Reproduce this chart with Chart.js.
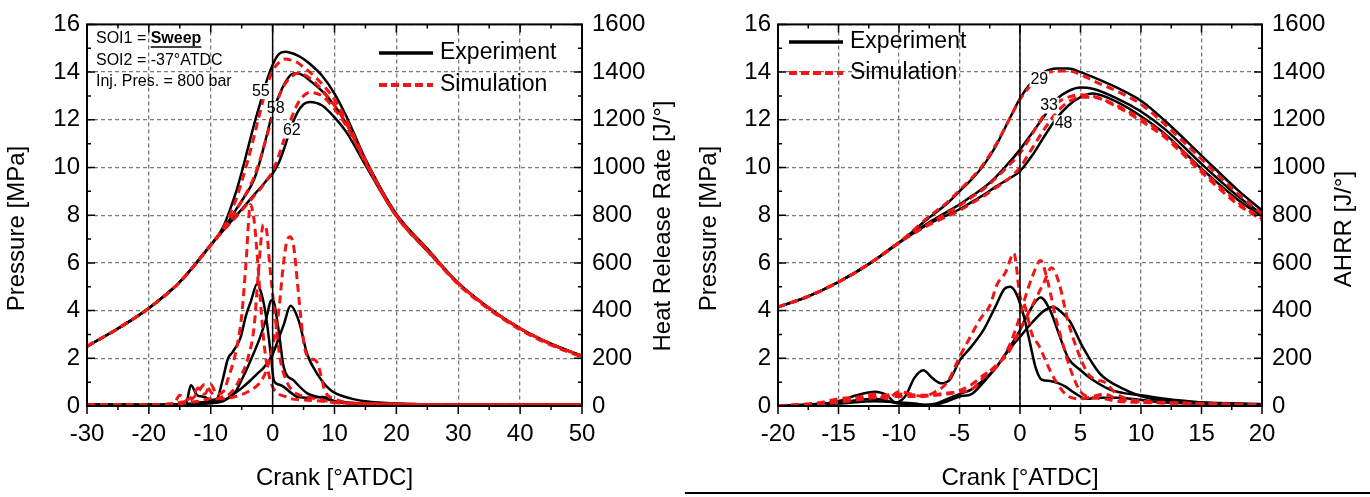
<!DOCTYPE html>
<html>
<head>
<meta charset="utf-8">
<script src="https://cdn.jsdelivr.net/npm/chart.js@4.4.1/dist/chart.umd.min.js"></script>
<style>
  html, body { margin: 0; padding: 0; background: #fff; }
  .panel { position: absolute; top: 0; width: 685px; height: 497px; }
  #left { left: 0; }
  #right { left: 685px; }
  #rule { position: absolute; left: 685px; top: 492px; width: 685px; height: 2px; background: #000; }
</style>
</head>
<body>
<div class="panel" id="left"><canvas id="chartL" width="685" height="497"></canvas></div>
<div class="panel" id="right"><canvas id="chartR" width="685" height="497"></canvas></div>
<div id="rule"></div>
<script>
// ---- left panel: pressure (MPa) ----
var leftCrank = [-30, -25, -20, -15, -10, -8, -6, -5, -4, -3, -2, -1, 0, 1, 2, 3, 4, 5, 6, 8, 10, 12, 15, 20, 25, 30, 35, 40, 45, 50];
var leftExp55 = [2.5, 3.25, 4.1, 5.2, 6.75, 7.5, 8.9, 9.8, 10.8, 11.8, 12.7, 13.6, 14.3, 14.75, 14.85, 14.8, 14.7, 14.55, 14.35, 13.85, 13.1, 12.1, 10.35, 8.05, 6.6, 5.15, 4.1, 3.25, 2.6, 2.1];
var leftExp58 = [2.5, 3.25, 4.1, 5.2, 6.75, 7.4, 8.2, 8.6, 9.0, 9.5, 10.3, 11.3, 12.3, 13.0, 13.55, 13.9, 13.95, 13.85, 13.65, 13.2, 12.6, 11.8, 10.3, 8.0, 6.55, 5.15, 4.1, 3.25, 2.6, 2.1];
var leftExp62 = [2.5, 3.25, 4.1, 5.2, 6.75, 7.35, 7.95, 8.25, 8.55, 8.85, 9.15, 9.45, 9.75, 10.2, 10.9, 11.7, 12.3, 12.65, 12.75, 12.6, 12.1, 11.45, 10.1, 7.95, 6.5, 5.15, 4.1, 3.25, 2.6, 2.1];
var leftSim55 = [2.5, 3.25, 4.1, 5.2, 6.75, 7.45, 8.6, 9.4, 10.3, 11.3, 12.35, 13.35, 14.05, 14.4, 14.55, 14.5, 14.4, 14.2, 14.0, 13.5, 12.85, 11.95, 10.3, 8.0, 6.55, 5.15, 4.1, 3.25, 2.6, 2.1];
var leftSim58 = [2.5, 3.25, 4.1, 5.2, 6.75, 7.4, 8.15, 8.6, 9.05, 9.6, 10.35, 11.25, 12.15, 12.95, 13.5, 13.8, 13.95, 13.9, 13.75, 13.25, 12.6, 11.8, 10.25, 8.0, 6.55, 5.15, 4.1, 3.25, 2.6, 2.1];
var leftSim62 = [2.5, 3.25, 4.1, 5.2, 6.75, 7.35, 7.9, 8.2, 8.5, 8.8, 9.1, 9.45, 9.85, 10.5, 11.3, 12.05, 12.65, 13.0, 13.15, 13.0, 12.45, 11.7, 10.2, 7.95, 6.5, 5.1, 4.05, 3.2, 2.55, 2.05];

// ---- left panel: heat release rate (J/deg) ----
var hrrExp55Crank = [-30, -20, -16, -14, -13.2, -12.2, -11, -10, -9, -8.1, -7.2, -6.5, -5.2, -4.3, -3.5, -2.5, -1.8, -1.1, -0.3, 0.2, 1, 1.8, 3, 4, 6, 8.2, 10, 15, 20, 30, 40, 50];
var hrrExp55 = [5, 5, 5, 12, 87, 45, 38, 25, 30, 107, 200, 225, 286, 380, 440, 513, 470, 382, 217, 107, 90, 80, 55, 38, 35, 38, 20, 10, 8, 5, 5, 5];
var hrrExp58Crank = [-30, -20, -14, -10, -8, -6, -5, -4, -3, -2, -1, -0.3, 0.1, 0.6, 1, 1.8, 3.4, 5.6, 7, 8, 10, 15, 20, 30, 50];
var hrrExp58 = [5, 5, 8, 20, 25, 60, 110, 165, 225, 290, 370, 440, 445, 380, 313, 162, 107, 53, 40, 35, 20, 10, 8, 5, 5];
var hrrExp62Crank = [-30, -20, -14, -10, -8, -6.2, -5, -3.6, -2.5, -1.4, 0, 1, 1.8, 2.9, 4.25, 5.6, 7.2, 9.4, 12.6, 15, 20, 30, 50];
var hrrExp62 = [5, 5, 6, 12, 20, 52, 75, 107, 135, 162, 217, 285, 341, 420, 355, 217, 135, 66, 32, 20, 10, 5, 5];
var hrrSim55Crank = [-30, -20, -16, -15, -14, -13, -12, -11, -10, -9, -8, -7, -6, -5, -4.3, -3.6, -3, -2.4, -1.8, -1.2, -0.5, 0, 1, 2, 3, 5, 8, 10, 15, 20, 30, 50];
var hrrSim55 = [5, 5, 10, 45, 25, 40, 75, 50, 90, 50, 60, 130, 220, 380, 600, 845, 780, 600, 380, 220, 120, 80, 50, 40, 30, 25, 20, 15, 10, 8, 5, 5];
var hrrSim58Crank = [-30, -20, -15, -13, -12, -11, -10, -9, -8, -7, -6, -5, -4, -3, -2.3, -1.5, -1, -0.5, 0, 0.6, 1.2, 2, 3, 4, 6, 8, 10, 15, 20, 30, 50];
var hrrSim58 = [5, 5, 15, 30, 60, 90, 60, 30, 40, 50, 80, 130, 200, 330, 560, 760, 740, 600, 470, 330, 200, 120, 70, 50, 35, 25, 15, 10, 8, 5, 5];
var hrrSim62Crank = [-30, -20, -15, -12, -10, -8, -6, -4, -2, -1, 0, 1, 1.6, 2.2, 2.8, 3.4, 4, 4.6, 5.2, 6, 7, 7.6, 8.5, 10, 12, 15, 20, 30, 50];
var hrrSim62 = [5, 5, 10, 20, 30, 30, 40, 60, 100, 150, 250, 400, 560, 680, 710, 670, 520, 360, 240, 200, 190, 150, 60, 30, 15, 10, 8, 5, 5];

// ---- right panel: pressure (MPa) ----
var rightCrank = [-20, -17.5, -15, -12.5, -10, -7.5, -6, -5, -4, -3, -2, -1, 0, 1, 2, 3, 4, 5, 6, 8, 10, 12, 15, 18, 20];
var rightExp29 = [4.15, 4.6, 5.2, 5.95, 6.85, 7.9, 8.5, 9.0, 9.5, 10.1, 10.9, 11.9, 12.9, 13.6, 14.0, 14.15, 14.15, 14.0, 13.8, 13.35, 12.8, 11.95, 10.5, 9.05, 8.2];
var rightExp33 = [4.15, 4.6, 5.2, 5.95, 6.85, 7.7, 8.15, 8.45, 8.8, 9.15, 9.6, 10.15, 10.75, 11.45, 12.15, 12.85, 13.2, 13.35, 13.3, 12.9, 12.35, 11.6, 10.15, 8.8, 8.05];
var rightExp48 = [4.15, 4.6, 5.2, 5.95, 6.85, 7.65, 8.0, 8.25, 8.55, 8.85, 9.2, 9.5, 9.85, 10.5, 11.3, 12.05, 12.6, 12.95, 13.1, 12.75, 12.15, 11.4, 9.95, 8.65, 7.95];
var rightSim29 = [4.15, 4.6, 5.2, 5.95, 6.85, 7.95, 8.55, 9.05, 9.55, 10.15, 10.95, 11.9, 12.85, 13.5, 13.9, 14.05, 14.05, 13.9, 13.65, 13.2, 12.65, 11.8, 10.35, 8.9, 8.05];
var rightSim33 = [4.15, 4.6, 5.2, 5.95, 6.85, 7.65, 8.1, 8.4, 8.75, 9.1, 9.55, 10.05, 10.6, 11.4, 12.2, 12.7, 12.95, 13.05, 13.0, 12.6, 12.05, 11.35, 9.9, 8.55, 7.85];
var rightSim48 = [4.15, 4.6, 5.2, 5.95, 6.85, 7.6, 7.95, 8.2, 8.5, 8.8, 9.15, 9.5, 10.0, 10.8, 11.6, 12.3, 12.75, 12.95, 12.95, 12.55, 11.95, 11.25, 9.8, 8.45, 7.8];

// ---- right panel: AHRR (J/deg) ----
var ahrrExp29Crank = [-20, -17, -15, -13.5, -12, -11, -10.3, -9.5, -8.7, -8, -7.2, -6.5, -5.8, -5, -4, -3, -2, -1.3, -0.8, -0.3, 0.3, 0.8, 1.3, 1.8, 2.5, 3.2, 3.8, 4.5, 5.5, 6.5, 8, 10, 12, 15, 20];
var ahrrExp29 = [0, 5, 20, 45, 60, 45, 15, 40, 120, 150, 115, 95, 110, 190, 250, 320, 420, 490, 500, 470, 380, 270, 160, 110, 105, 95, 80, 55, 30, 35, 35, 25, 15, 10, 5];
var ahrrExp33Crank = [-20, -15, -12, -10, -8, -7, -6, -5, -4, -3, -2, -1, 0, 0.8, 1.7, 2.5, 3.3, 4, 5, 6, 7.4, 8.5, 10, 12, 15, 20];
var ahrrExp33 = [0, 15, 30, 10, 5, 10, 30, 50, 70, 110, 160, 235, 318, 400, 455, 400, 290, 200, 150, 110, 70, 55, 45, 30, 15, 5];
var ahrrExp48Crank = [-20, -15, -12, -10, -8.5, -7.5, -6, -5, -4, -3, -2, -1, 0, 1, 2, 2.75, 3.5, 4.1, 5.2, 6.6, 8.5, 10.7, 13, 15, 20];
var ahrrExp48 = [0, 10, 20, 15, 10, 0, 20, 40, 50, 100, 160, 230, 290, 350, 400, 415, 390, 357, 246, 136, 73, 32, 20, 15, 8];
var ahrrSim29Crank = [-20, -17, -15, -13, -12, -11, -10, -9, -8, -7, -6, -5, -4, -3.3, -2.5, -1.9, -1.2, -0.5, 0, 0.4, 1, 1.6, 2.2, 3, 4, 5, 6, 7, 8, 10, 15, 20];
var ahrrSim29 = [0, 10, 30, 40, 50, 30, 60, 50, 40, 60, 100, 205, 300, 364, 420, 509, 560, 640, 460, 420, 300, 250, 180, 100, 40, 30, 40, 50, 30, 20, 10, 5];
var ahrrSim33Crank = [-20, -15, -12, -10, -8, -6, -4, -3, -2, -1, -0.3, 0.4, 1, 1.7, 2.3, 3, 3.6, 4.2, 5, 6, 7, 8, 10, 15, 20];
var ahrrSim33 = [0, 20, 40, 50, 45, 50, 90, 130, 160, 240, 330, 450, 540, 610, 520, 360, 250, 150, 60, 35, 30, 20, 15, 10, 5];
var ahrrSim48Crank = [-20, -15, -12, -10, -8, -6, -4, -3, -2, -1, 0, 1, 2, 2.6, 3.2, 4, 5, 5.7, 6.3, 7, 8, 10, 15, 20];
var ahrrSim48 = [0, 15, 35, 40, 40, 55, 70, 120, 170, 220, 320, 420, 520, 580, 520, 350, 200, 130, 110, 100, 50, 20, 10, 5];

var FONT = "'Liberation Sans', Arial, sans-serif";
var RED = "#f01616";

function series(xs, ys, isExp, axis) {
    return {
        data: xs.map(function (x, i) { return { x: x, y: ys[i] }; }),
        borderColor: isExp ? "#000" : RED,
        borderWidth: isExp ? 2.5 : 3,
        borderDash: isExp ? [] : [8, 5],
        pointRadius: 0,
        fill: false,
        yAxisID: axis,
        cubicInterpolationMode: "monotone",
        order: isExp ? 1 : 0,
    };
}

// frame, zero line and the small tick marks
var framePlugin = {
    id: "frame",
    afterDraw: function (chart, args, opts) {
        var ctx = chart.ctx, a = chart.chartArea;
        var xs = chart.scales.x, ys = chart.scales.y;
        ctx.save();
        ctx.strokeStyle = "#000";
        ctx.lineWidth = 1.5;
        var x0 = xs.getPixelForValue(0);
        ctx.beginPath(); ctx.moveTo(x0, a.top); ctx.lineTo(x0, a.bottom); ctx.stroke();
        ctx.beginPath();
        for (var v = ys.min; v <= ys.max; v += 1) {
            var py = ys.getPixelForValue(v);
            var len = v % 2 === 0 ? 8 : 4;
            ctx.moveTo(a.left, py); ctx.lineTo(a.left + len, py);
            ctx.moveTo(a.right, py); ctx.lineTo(a.right - len, py);
        }
        var k = 0;
        for (var u = xs.min; u <= xs.max + 1e-9; u += opts.xMinor) {
            var px = xs.getPixelForValue(u);
            var l2 = k % 2 === 0 ? 8 : 4;
            ctx.moveTo(px, a.bottom); ctx.lineTo(px, a.bottom + l2);
            ctx.moveTo(px, a.top); ctx.lineTo(px, a.top + l2);
            k++;
        }
        ctx.stroke();
        ctx.lineWidth = 2;
        ctx.strokeRect(a.left, a.top, a.right - a.left, a.bottom - a.top);

        // right axis title, reading bottom to top like the left one
        var t = opts.rightTitle;
        ctx.translate(t.x, t.y);
        ctx.rotate(-Math.PI / 2);
        ctx.font = "24px " + FONT;
        ctx.fillStyle = "#000";
        ctx.textAlign = "center";
        ctx.textBaseline = "middle";
        ctx.fillText(t.text, 0, 0);
        ctx.restore();
    },
};

// curve labels, legend and the info text
var notesPlugin = {
    id: "notes",
    afterDatasetsDraw: function (chart, args, opts) {
        var ctx = chart.ctx, xs = chart.scales.x, ys = chart.scales.y;
        ctx.save();
        ctx.font = "16px " + FONT;
        ctx.textAlign = "center";
        ctx.textBaseline = "middle";
        opts.labels.forEach(function (l) {
            var px = xs.getPixelForValue(l.x), py = ys.getPixelForValue(l.y);
            var w = ctx.measureText(l.t).width;
            ctx.fillStyle = "#fff";
            ctx.fillRect(px - w / 2 - 1, py - 8, w + 2, 16);
            ctx.fillStyle = "#000";
            ctx.fillText(l.t, px, py);
        });

        var lg = opts.legend;
        ctx.lineWidth = 3.5;
        ctx.strokeStyle = "#000";
        ctx.beginPath(); ctx.moveTo(lg.x, lg.y); ctx.lineTo(lg.x + 54, lg.y); ctx.stroke();
        ctx.strokeStyle = RED;
        ctx.lineWidth = 4;
        ctx.setLineDash([8, 4]);
        ctx.beginPath(); ctx.moveTo(lg.x, lg.y + lg.gap); ctx.lineTo(lg.x + 54, lg.y + lg.gap); ctx.stroke();
        ctx.setLineDash([]);
        ctx.fillStyle = "#000";
        ctx.font = "23px " + FONT;
        ctx.textAlign = "left";
        ctx.fillText("Experiment", lg.x + 61, lg.y);
        ctx.fillText("Simulation", lg.x + 61, lg.y + lg.gap);

        if (opts.info) {
            ctx.font = "16px " + FONT;
            var tx = 96;
            ctx.fillText("SOI1 = ", tx, 39);
            var w1 = ctx.measureText("SOI1 = ").width;
            ctx.font = "bold 16px " + FONT;
            ctx.fillText("Sweep", tx + w1, 39);
            var w2 = ctx.measureText("Sweep").width;
            ctx.lineWidth = 1.5;
            ctx.strokeStyle = "#000";
            ctx.beginPath(); ctx.moveTo(tx + w1, 47); ctx.lineTo(tx + w1 + w2, 47); ctx.stroke();
            ctx.font = "16px " + FONT;
            ctx.fillText("SOI2 = -37\u00B0ATDC", tx, 61);
            ctx.fillText("Inj. Pres. = 800 bar", tx, 82);
        }
        ctx.restore();
    },
};

function makeChart(id, cfg) {
    var tickFont = { family: FONT, size: 24 };
    var titleFont = { family: FONT, size: 24 };
    var gridDash = { display: false, dash: [4, 3] };
    return new Chart(document.getElementById(id), {
        type: "line",
        data: { datasets: cfg.datasets },
        plugins: [framePlugin, notesPlugin],
        options: {
            responsive: false,
            animation: false,
            devicePixelRatio: 1,
            layout: { padding: { top: cfg.top, left: 0, right: 0, bottom: 0 } },
            plugins: {
                legend: { display: false },
                tooltip: { enabled: false },
                frame: { xMinor: cfg.xStep / 2, rightTitle: cfg.rightTitle },
                notes: { labels: cfg.labels, legend: cfg.legend, info: cfg.info },
            },
            scales: {
                x: {
                    type: "linear",
                    min: cfg.xMin,
                    max: cfg.xMax,
                    afterFit: function (s) { s.height = 91; },
                    ticks: { stepSize: cfg.xStep, color: "#000", font: tickFont, padding: 14, maxRotation: 0 },
                    grid: { color: "#7a7a7a", lineWidth: 1.3, drawTicks: false },
                    border: gridDash,
                    title: { display: true, text: "Crank [\u00B0ATDC]", color: "#000", font: titleFont, padding: { top: 0, bottom: 4 } },
                },
                y: {
                    position: "left",
                    min: 0,
                    max: 16,
                    afterFit: function (s) { s.width = cfg.yWidth; },
                    ticks: { stepSize: 2, color: "#000", font: tickFont, padding: 7 },
                    grid: { color: "#7a7a7a", lineWidth: 1.3, drawTicks: false },
                    border: gridDash,
                    title: { display: true, text: "Pressure [MPa]    ", color: "#000", font: titleFont, padding: { top: cfg.yTitlePad, bottom: 0 } },
                },
                y2: {
                    position: "right",
                    min: 0,
                    max: 1600,
                    afterFit: function (s) { s.width = cfg.y2Width; },
                    ticks: { stepSize: 200, color: "#000", font: tickFont, padding: 10, callback: function (v) { return String(v); } },
                    grid: { display: false, drawTicks: false },
                    border: { display: false },
                },
            },
        },
    });
}

var leftChart = makeChart("chartL", {
    xMin: -30, xMax: 50, xStep: 10, top: 18, yWidth: 87, y2Width: 103,
    yTitlePad: 3, info: true,
    rightTitle: { text: "Heat Release Rate [J/\u00B0]", x: 663, y: 226 },
    legend: { x: 379, y: 53, gap: 32 },
    labels: [{ t: "55", x: -1.9, y: 13.2 }, { t: "58", x: 0.5, y: 12.45 }, { t: "62", x: 3.1, y: 11.55 }],
    datasets: [
        series(leftCrank, leftExp55, true, "y"),
        series(leftCrank, leftExp58, true, "y"),
        series(leftCrank, leftExp62, true, "y"),
        series(leftCrank, leftSim55, false, "y"),
        series(leftCrank, leftSim58, false, "y"),
        series(leftCrank, leftSim62, false, "y"),
        series(hrrExp55Crank, hrrExp55, true, "y2"),
        series(hrrExp58Crank, hrrExp58, true, "y2"),
        series(hrrExp62Crank, hrrExp62, true, "y2"),
        series(hrrSim55Crank, hrrSim55, false, "y2"),
        series(hrrSim58Crank, hrrSim58, false, "y2"),
        series(hrrSim62Crank, hrrSim62, false, "y2"),
    ],
});

var rightChart = makeChart("chartR", {
    xMin: -20, xMax: 20, xStep: 5, top: 20, yWidth: 93, y2Width: 108,
    yTitlePad: 10, info: false,
    rightTitle: { text: "AHRR [J/\u00B0]", x: 659, y: 229 },
    legend: { x: 104, y: 42, gap: 31 },
    labels: [{ t: "29", x: 1.6, y: 13.7 }, { t: "33", x: 2.4, y: 12.6 }, { t: "48", x: 3.6, y: 11.85 }],
    datasets: [
        series(rightCrank, rightExp29, true, "y"),
        series(rightCrank, rightExp33, true, "y"),
        series(rightCrank, rightExp48, true, "y"),
        series(rightCrank, rightSim29, false, "y"),
        series(rightCrank, rightSim33, false, "y"),
        series(rightCrank, rightSim48, false, "y"),
        series(ahrrExp29Crank, ahrrExp29, true, "y2"),
        series(ahrrExp33Crank, ahrrExp33, true, "y2"),
        series(ahrrExp48Crank, ahrrExp48, true, "y2"),
        series(ahrrSim29Crank, ahrrSim29, false, "y2"),
        series(ahrrSim33Crank, ahrrSim33, false, "y2"),
        series(ahrrSim48Crank, ahrrSim48, false, "y2"),
    ],
});
</script>
</body>
</html>
